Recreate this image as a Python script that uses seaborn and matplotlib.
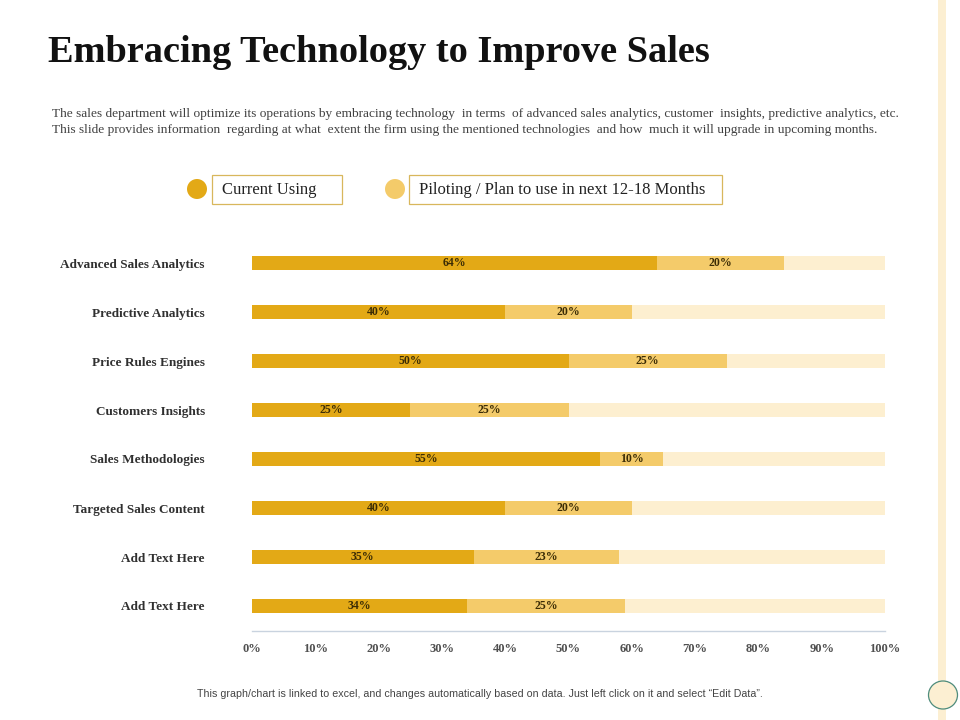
import pandas as pd
import matplotlib.pyplot as plt
import seaborn as sns
from matplotlib.patches import Ellipse, Rectangle

# Dữ liệu
categories = ['Advanced Sales Analytics', 'Predictive Analytics', 'Price Rules Engines',
              'Customers Insights', 'Sales Methodologies', 'Targeted Sales Content',
              'Add Text Here', 'Add Text Here ']
current = [64, 40, 50, 25, 55, 40, 35, 34]
piloting = [20, 20, 25, 25, 10, 20, 23, 25]
ticks = [0, 10, 20, 30, 40, 50, 60, 70, 80, 90, 100]

c_cur = '#E3A916'
c_pil = '#F4CB6A'
c_rest = '#FDEFD0'

df = pd.DataFrame({'cat': categories, 'cur': current, 'pil': piloting})
df['both'] = df['cur'] + df['pil']
df['full'] = 100

sns.set_style('white')
plt.rcParams['font.family'] = ['Liberation Serif', 'DejaVu Serif']

fig = plt.figure(figsize=(9.6, 7.2), dpi=100)
ax = fig.add_axes([252 / 960, 1 - 630.5 / 720, 633 / 960, 392 / 720])

w = 0.29
for col, c in [('full', c_rest), ('both', c_pil), ('cur', c_cur)]:
    sns.barplot(data=df, y='cat', x=col, color=c, width=w, orient='h', ax=ax,
                saturation=1, linewidth=0)

for i, (a, b) in enumerate(zip(current, piloting)):
    ax.text(a / 2, i, f'{a}%', ha='center', va='center', fontsize=8.5,
            fontweight='bold', color='#3b2c05')
    ax.text(a + b / 2, i, f'{b}%', ha='center', va='center', fontsize=8.5,
            fontweight='bold', color='#3b2c05')

ax.set_xlim(0, 100)
ax.set_ylim(7.5, -0.5)
ax.set_xticks(ticks)
ax.set_xticklabels([f'{t}%' for t in ticks], fontsize=9, fontweight='bold', color='#505050')
ax.set_yticks(range(len(categories)))
ax.set_yticklabels([c.strip() for c in categories], fontsize=9.5, fontweight='bold', color='#303030')
ax.tick_params(axis='x', length=0, pad=9)
ax.tick_params(axis='y', length=0, pad=34)
ax.set_xlabel('')
ax.set_ylabel('')
for s in ['top', 'right', 'left']:
    ax.spines[s].set_visible(False)
ax.spines['bottom'].set_color('#C9D3DF')
ax.spines['bottom'].set_linewidth(1)

# Tiêu đề và mô tả
fig.text(48 / 960, 1 - 52 / 720, 'Embracing Technology to Improve Sales', fontsize=27.6,
         fontweight='bold', va='center', ha='left', color='#111111')
fig.text(52 / 960, 1 - 114 / 720,
         'The sales department will optimize its operations by embracing technology  in terms  of advanced sales analytics, customer  insights, predictive analytics, etc.',
         fontsize=9.6, va='center', ha='left', color='#404040')
fig.text(52 / 960, 1 - 130 / 720,
         'This slide provides information  regarding at what  extent the firm using the mentioned technologies  and how  much it will upgrade in upcoming months.',
         fontsize=9.6, va='center', ha='left', color='#404040')

# Chú thích
H, W = 720, 960
def legend_item(cx, color, x0, x1, label):
    fig.patches.append(Ellipse((cx / W, 1 - 189 / H), 20 / W, 20 / H, transform=fig.transFigure,
                               facecolor=color, edgecolor='none'))
    fig.patches.append(Rectangle((x0 / W, 1 - 204 / H), (x1 - x0) / W, 29 / H,
                                 transform=fig.transFigure, facecolor='white',
                                 edgecolor='#D8B75C', linewidth=0.9))
    fig.text((x0 + 10) / W, 1 - 190 / H, label, fontsize=12, va='center', ha='left',
             color='#222222')

legend_item(197, c_cur, 212, 342, 'Current Using')
legend_item(395, c_pil, 409, 722, 'Piloting / Plan to use in next 12-18 Months')

# Trang trí bên phải
fig.patches.append(Rectangle((938 / W, 0), 8 / W, 1, transform=fig.transFigure,
                             facecolor='#FCEFD2', edgecolor='none'))
fig.patches.append(Ellipse((943 / W, 1 - 695 / H), 29 / W, 28 / H, transform=fig.transFigure,
                           facecolor='#FCEFD2', edgecolor='#4E8C7C', linewidth=0.9))

fig.text(480 / W, 1 - 694 / H,
         'This graph/chart is linked to excel, and changes automatically based on data. Just left click on it and select \u201cEdit Data\u201d.',
         fontsize=7.7, ha='center', va='center', color='#444444', family='Liberation Sans')

fig.savefig('out.png', dpi=100)
